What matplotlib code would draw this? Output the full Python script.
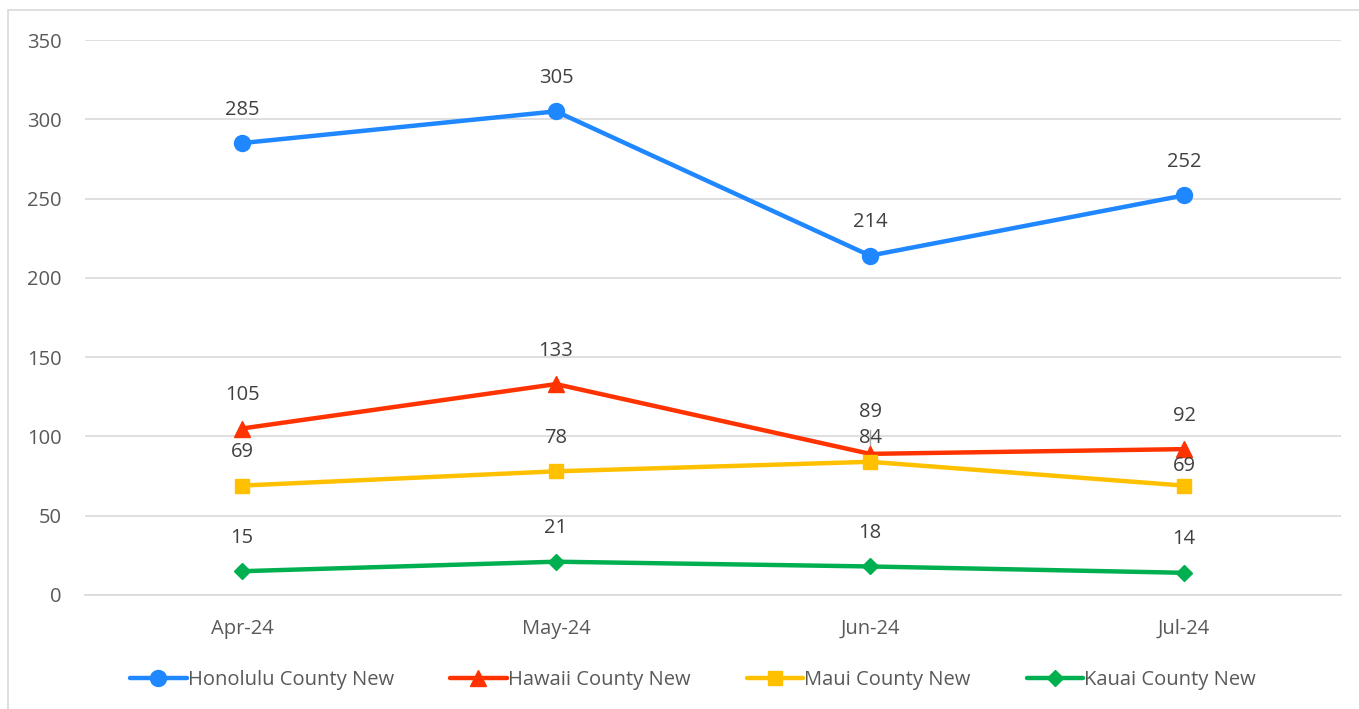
import matplotlib.pyplot as plt
from matplotlib.patches import Rectangle
import numpy as np

# Monthly counts per county
months = ["Apr-24", "May-24", "Jun-24", "Jul-24"]
honolulu = [285, 305, 214, 252]
hawaii = [105, 133, 89, 92]
maui = [69, 78, 84, 69]
kauai = [15, 21, 18, 14]

plt.rcParams['font.family'] = ['Open Sans', 'DejaVu Sans']

fig = plt.figure(figsize=(13.59, 7.09), dpi=100)
ax = fig.add_axes([85/1359, 1-595/709, (1341-85)/1359, (595-40)/709])

# outer border of the chart
fig.patches.append(Rectangle((8/1359, -0.1), 1.0, 1.1-10/709, transform=fig.transFigure,
                             fill=False, edgecolor='#D9D9D9', linewidth=1.2))

x = np.arange(len(months))
series = [
    ("Honolulu County New", honolulu, '#1F87FF', 'o', 11.5),
    ("Hawaii County New", hawaii, '#FF3300', '^', 11),
    ("Maui County New", maui, '#FFC000', 's', 10.5),
    ("Kauai County New", kauai, '#00B050', 'D', 8),
]

# label offsets in points (Excel nudged the crowded ones)
offsets = {("Hawaii County New", 2): 30, ("Maui County New", 2): 17,
           ("Maui County New", 3): 14}

for name, vals, col, mk, ms in series:
    ax.plot(x, vals, color=col, marker=mk, markersize=ms, linewidth=3.2, label=name,
            solid_capstyle='round', zorder=3)
    for i, v in enumerate(vals):
        dy = offsets.get((name, i), 24)
        ax.annotate(str(v), (i, v), xytext=(0, dy), textcoords='offset points',
                    ha='center', va='center', fontsize=14.5, color='#404040', zorder=4)

# leader line for the Jun-24 Maui label
ax.plot([2, 2], [hawaii[2], hawaii[2] + 15], color='#A6A6A6', lw=1, zorder=2.5)

ax.set_xlim(-0.5, 3.5)
ax.set_ylim(0, 350)
ax.set_yticks(range(0, 351, 50))
ax.set_xticks(x)
ax.set_xticklabels(months)
ax.grid(axis='y', color='#D9D9D9', linewidth=1.2)
ax.set_axisbelow(True)
for s in ['top', 'right', 'left']:
    ax.spines[s].set_visible(False)
ax.spines['bottom'].set_color('#D9D9D9')
ax.spines['bottom'].set_linewidth(1.2)
ax.tick_params(axis='both', length=0, labelsize=14.5, labelcolor='#595959')
ax.tick_params(axis='y', pad=17)
ax.tick_params(axis='x', pad=17)

fig.legend(loc='center', bbox_to_anchor=(0.51, 1-680/709), ncol=4, frameon=False,
           fontsize=14.5, labelcolor='#595959', handlelength=2.8, columnspacing=2.8,
           handletextpad=0.05)

fig.savefig("out.png", dpi=100)
